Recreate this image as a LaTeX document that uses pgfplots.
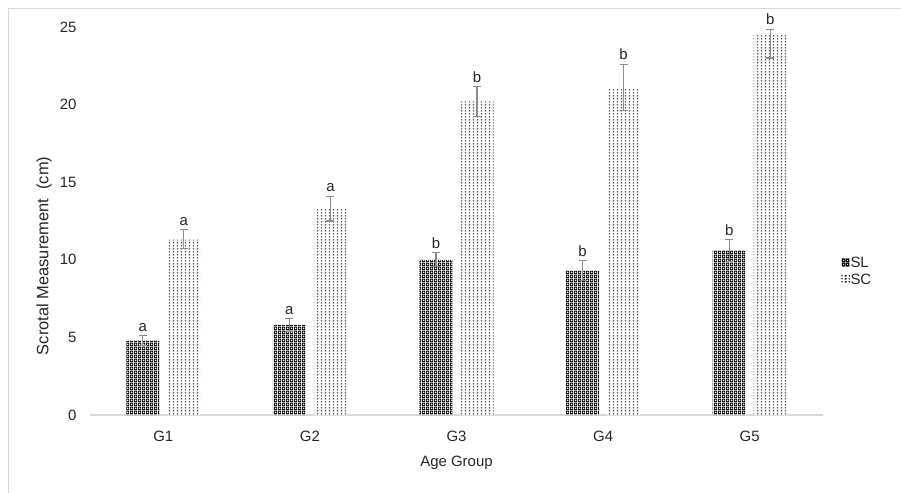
\documentclass[border=0pt]{standalone}
\usepackage{fontspec}
\setmainfont{Liberation Sans}
\usepackage{pgfplots}
\pgfplotsset{compat=1.18}
\usepackage{pgfplotstable}
\usetikzlibrary{patterns}

\pgfdeclarepatternformonly{slpat}{\pgfqpoint{0bp}{0bp}}{\pgfqpoint{3.6bp}{3.6bp}}{\pgfqpoint{3.6bp}{3.6bp}}{
  \pgfseteorule
  \pgfpathrectangle{\pgfqpoint{0bp}{0bp}}{\pgfqpoint{3.6bp}{3.6bp}}
  \pgfpathcircle{\pgfqpoint{1.8bp}{1.8bp}}{1.15bp}
  \pgfusepath{fill}
}
\pgfdeclarepatternformonly{scpat}{\pgfqpoint{0bp}{0bp}}{\pgfqpoint{3.5bp}{3bp}}{\pgfqpoint{3.5bp}{3bp}}{
  \pgfpathrectangle{\pgfqpoint{1bp}{0.75bp}}{\pgfqpoint{1.5bp}{1.5bp}}
  \pgfusepath{fill}
}

% xs: position of the bar centre (group centre -/+ bar offset)
\pgfplotstableread{
xs y ep em top lab
-0.14 4.8 0.3 0.3 5.1 a
0.86 5.8 0.4 0.4 6.2 a
1.86 10.0 0.45 0.45 10.45 b
2.86 9.3 0.65 0.65 9.95 b
3.86 10.6 0.7 0.7 11.3 b
}\sltab

\pgfplotstableread{
xs y ep em top lab
0.14 11.3 0.65 0.55 11.95 a
1.14 13.3 0.8 0.8 14.1 a
2.14 20.2 0.95 0.95 21.15 b
3.14 21.0 1.6 1.4 22.6 b
4.14 24.55 0.3 1.55 24.85 b
}\sctab

\begin{document}
\begin{tikzpicture}
\path (0,0) rectangle (901bp,493bp);
\draw[black!15, line width=0.8bp] (8bp,0.5bp) -- (8bp,485bp) -- (900.5bp,485bp);
\begin{axis}[
  at={(90bp,78bp)}, anchor=south west,
  width=733bp, height=388bp, scale only axis,
  xmin=-0.5, xmax=4.5, ymin=0, ymax=25,
  ytick={0,5,...,25},
  xtick={0,1,2,3,4}, xticklabels={G1,G2,G3,G4,G5},
  axis x line*=bottom, axis y line*=left,
  y axis line style={draw=none},
  x axis line style={draw=black!15, line width=1.2bp, -},
  major tick length=0pt,
  clip=false,
  font=\fontsize{15}{17}\selectfont,
  /pgf/number format/assume math mode=true,
  ticklabel style={font=\fontsize{15}{17}\selectfont, text=black!85},
  yticklabel style={xshift=-10bp},
  xticklabel style={yshift=-13bp},
  every axis x label/.style={at={(rel axis cs:0.5,0)}, anchor=north, inner sep=0pt, yshift=-41bp, font=\fontsize{15}{17}\selectfont, text=black!85},
  every axis y label/.style={at={(rel axis cs:0,0.41)}, rotate=90, anchor=center, yshift=46bp, font=\fontsize{16.5}{18}\selectfont, text=black!85},
  xlabel={Age Group},
  ylabel={Scrotal Measurement\ \ (cm)},
  legend style={at={(rel axis cs:1.025,0.37)}, anchor=west, draw=none, fill=none,
    font=\fontsize{15}{17}\selectfont, row sep=3bp, inner sep=0pt,
    nodes={inner sep=1bp, text=black!85}},
  legend cell align=left,
  nodes near coords style={font=\fontsize{15}{17}\selectfont, anchor=south, inner sep=0pt, yshift=4bp, text=black!85},
]
\addplot[ybar, bar width=33bp, bar shift=0pt, draw=none, fill=white,
  postaction={pattern=slpat, pattern color=black},
  legend image code/.code={\fill[white,postaction={pattern=slpat, pattern color=black}] (0bp,-4bp) rectangle (8bp,4bp);},
  error bars/.cd, y dir=both, y explicit,
  error bar style={black!45, line width=1.1bp},
  error mark options={black!45, line width=1.1bp, mark size=4bp, rotate=90}]
  table[x=xs, y=y, y error plus=ep, y error minus=em] {\sltab};
\addlegendentry{SL}
\addplot[ybar, bar width=33bp, bar shift=0pt, draw=none, fill=white,
  postaction={pattern=scpat, pattern color=black},
  legend image code/.code={\fill[white,postaction={pattern=scpat, pattern color=black}] (0bp,-4bp) rectangle (8bp,4bp);},
  error bars/.cd, y dir=both, y explicit,
  error bar style={black!45, line width=1.1bp},
  error mark options={black!45, line width=1.1bp, mark size=4bp, rotate=90}]
  table[x=xs, y=y, y error plus=ep, y error minus=em] {\sctab};
\addlegendentry{SC}
\addplot[ybar, bar width=33bp, bar shift=0pt, draw=none, fill=none, forget plot,
  nodes near coords, point meta=explicit symbolic]
  table[x=xs, y=top, meta=lab] {\sltab};
\addplot[ybar, bar width=33bp, bar shift=0pt, draw=none, fill=none, forget plot,
  nodes near coords, point meta=explicit symbolic]
  table[x=xs, y=top, meta=lab] {\sctab};
\end{axis}
\end{tikzpicture}
\end{document}
